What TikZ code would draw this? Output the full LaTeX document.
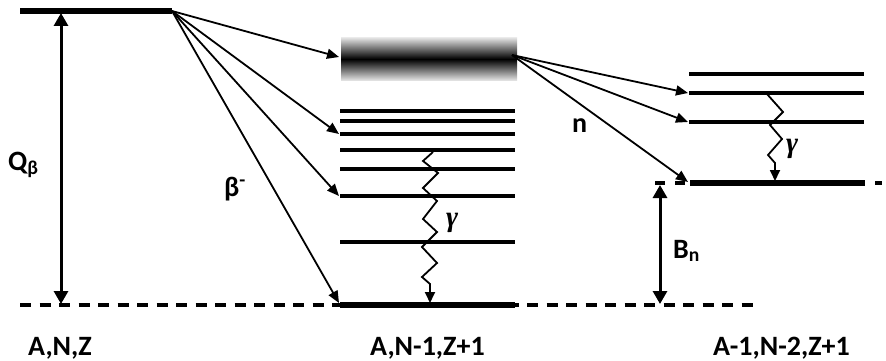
\documentclass[tikz,border=0pt]{standalone}
\usepackage{fontspec}
\setmainfont{Carlito}
\newfontfamily\greekserif{Liberation Serif}
\usetikzlibrary{arrows.meta,calc}
\begin{document}
\begin{tikzpicture}[x=1pt,y=-1pt,
  level/.style={line width=3.5pt},
  ground/.style={line width=6pt},
  dashlevel/.style={line width=4pt, dash pattern=on 11pt off 8.5pt},
  decay/.style={line width=1.8pt, -{Triangle[length=12pt,width=10pt]}},
  span/.style={line width=3pt, {Triangle[length=13pt,width=14pt]}-{Triangle[length=13pt,width=14pt]}},
  gammaray/.style={line width=1.8pt, line join=miter, -{Triangle[length=11pt,width=10pt]}},
  lbl/.style={font=\fontsize{28}{32}\selectfont\bfseries, inner sep=0pt, anchor=base west},
  glbl/.style={font=\fontsize{29}{34}\selectfont\greekserif\bfseries\itshape, inner sep=0pt, anchor=base west},
  continuum/.style={draw=none, minimum width=176pt, minimum height=42pt, inner sep=0pt,
    top color=black!12, bottom color=black!12, middle color=black}
]
\useasboundingbox (0,0) rectangle (886,361);

% ---- parent nucleus (A,N,Z) ----
\coordinate (P0) at (20,11);
\coordinate (P1) at (172,11);
\draw[ground] (P0) -- (P1);

% common base line
\coordinate (B0) at (20,305);
\coordinate (B1) at (760,305);
\draw[dashlevel] (B0) -- (B1);

% Q-value span
\coordinate (Qt) at (61,13);
\coordinate (Qb) at (61,304);
\draw[span] (Qt) -- (Qb);

% ---- daughter (A,N-1,Z+1) ----
\node[continuum] (band) at (429,59) {};
\foreach \y/\w [count=\i] in {111/3.5,121/4,134/4,150/3.5,169/3.5,196/3.5,242/3.5}{
  \coordinate (DL\i) at (340,\y);
  \coordinate (DR\i) at (515,\y);
  \draw[line width=\w pt] (DL\i) -- (DR\i);
}
\coordinate (DG0) at (340,305);
\coordinate (DG1) at (515,305);
\draw[ground] (DG0) -- (DG1);

% beta branches
\coordinate (T1) at (339,57);
\coordinate (T2) at (339,134);
\coordinate (T3) at (339,196);
\coordinate (T4) at (339,303);
\foreach \t in {T1,T2,T3,T4}{\draw[decay] (P1) -- (\t);}

% gamma cascade in the daughter
\coordinate (G0) at (433,152);
\coordinate (G1) at (430,303);
\draw[gammaray] (G0) -- (423,161) -- (438,173) -- (423,188) -- (437,201) -- (423,219)
  -- (437,232) -- (422,247) -- (437,263) -- (422,277) -- (430,284) -- (G1);

% ---- grand-daughter (A-1,N-2,Z+1) ----
\foreach \y [count=\i] in {74,93,122}{
  \coordinate (RL\i) at (689,\y);
  \coordinate (RR\i) at (864,\y);
  \draw[level] (RL\i) -- (RR\i);
}
\coordinate (S0) at (655,183);
\coordinate (S1) at (882,183);
\draw[dashlevel, dash pattern=on 10pt off 10pt] (S0) -- (S1);
\coordinate (RG0) at (690,183);
\coordinate (RG1) at (865,183);
\draw[ground] (RG0) -- (RG1);

% neutron separation energy span
\coordinate (Bt) at (660,185);
\coordinate (Bb) at (660,304);
\draw[span] (Bt) -- (Bb);

% neutron branches
\coordinate (N0) at (512,55);
\coordinate (U1) at (688,93);
\coordinate (U2) at (688,122);
\coordinate (U3) at (688,182);
\foreach \t in {U1,U2,U3}{\draw[decay] (N0) -- (\t);}

% gamma cascade in the grand-daughter
\coordinate (H0) at (767,94);
\coordinate (H1) at (775,181);
\draw[gammaray] (H0) -- (783,112) -- (770,125) -- (782,139) -- (768,155) -- (775,163) -- (H1);

% ---- labels ----
\node[lbl] (lq) at (8,170) {Q\textsubscript{β}};
\node[lbl] (lb) at (224,196) {β\textsuperscript{-}};
\node[lbl] (ln) at (572,132) {n};
\node[lbl] (lbn) at (673,258) {B\textsubscript{n}};
\node[glbl] (lg1) at (446,226) {γ};
\node[glbl] (lg2) at (786,152) {γ};
\node[lbl] (la) at (28,355) {A,N,Z};
\node[lbl] (lc) at (370,355) {A,N-1,Z+1};
\node[lbl] (ld) at (713,355) {A-1,N-2,Z+1};
\end{tikzpicture}
\end{document}
